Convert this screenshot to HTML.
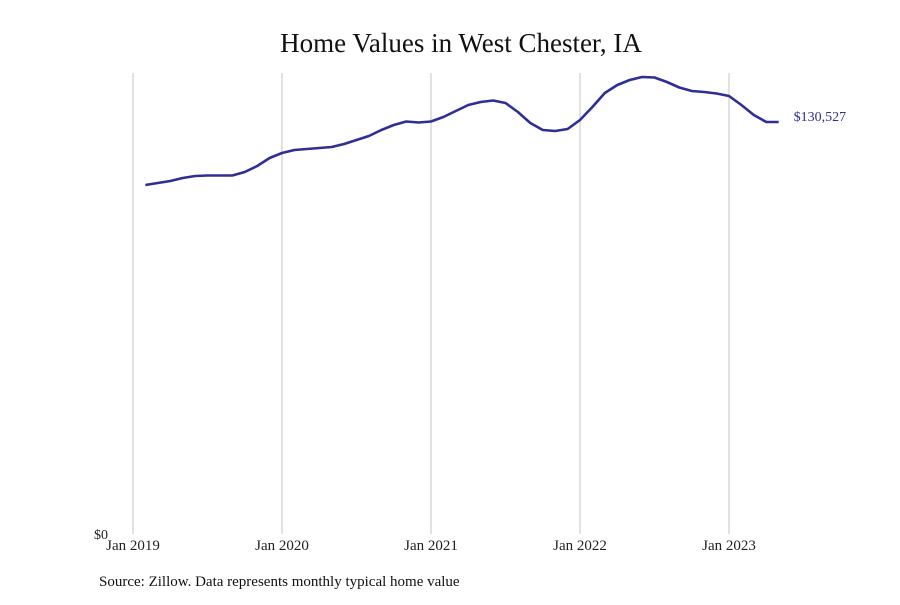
<!DOCTYPE html>
<html><head><meta charset="utf-8"><style>
body{margin:0;background:#fff;}
svg text{font-family:"Liberation Serif",serif;}
</style></head><body>
<svg width="900" height="600" viewBox="0 0 900 600" xmlns="http://www.w3.org/2000/svg">
<text x="461" y="52" font-size="27" text-anchor="middle" fill="#111">Home Values in West Chester, IA</text>
<g id="grid"></g>
<g id="xlabels"></g>
<text x="94" y="539" font-size="14" fill="#222">$0</text>
<path id="line" fill="none" stroke="#2e2e96" stroke-width="2.6" stroke-linejoin="round"/>
<text id="endlabel" font-size="14" fill="#2e2e96"></text>
<text x="99" y="586" font-size="15" fill="#111">Source: Zillow. Data represents monthly typical home value</text>
</svg>
<script>
const tickLabels=["Jan 2019","Jan 2020","Jan 2021","Jan 2022","Jan 2023"];
const startMonth=1;
const values=[110560,111200,111830,112780,113410,113570,113570,113570,114680,116580,119120,120700,121650,121970,122290,122600,123550,124820,126090,127990,129570,130680,130360,130680,132110,134010,135910,136860,137330,136540,133690,130200,127990,127670,128300,131160,135270,139710,142240,143830,144780,144620,143190,141450,140340,140020,139550,138760,135910,132740,130520,130527];
const ns="http://www.w3.org/2000/svg";
const x0=133,pxPerMonth=149/12,y0=534,yPerVal=412/130527;
const xs=m=>x0+m*pxPerMonth, ys=v=>y0-v*yPerVal;
const grid=document.getElementById('grid'),xl=document.getElementById('xlabels');
tickLabels.forEach((t,i)=>{
 const x=xs(i*12);
 const l=document.createElementNS(ns,'line');
 l.setAttribute('x1',x);l.setAttribute('x2',x);l.setAttribute('y1',73);l.setAttribute('y2',y0);
 l.setAttribute('stroke','#c4c4c4');l.setAttribute('stroke-width','1');
 
 
 grid.appendChild(l);
 const tx=document.createElementNS(ns,'text');
 tx.setAttribute('x',x);tx.setAttribute('y',550);tx.setAttribute('font-size','15');tx.setAttribute('text-anchor','middle');tx.setAttribute('fill','#222');
 tx.textContent=t;
 
 
 xl.appendChild(tx);
});
let d='';
values.forEach((v,i)=>{d+=(i?'L':'M')+xs(startMonth+i).toFixed(1)+','+ys(v).toFixed(1);});
document.getElementById('line').setAttribute('d',d);
const last=values[values.length-1];
const el=document.getElementById('endlabel');
el.setAttribute('x',xs(startMonth+values.length-1)+15);
el.setAttribute('y',ys(last)-1);
el.textContent='$'+last.toLocaleString('en-US');
</script>
</body></html>
